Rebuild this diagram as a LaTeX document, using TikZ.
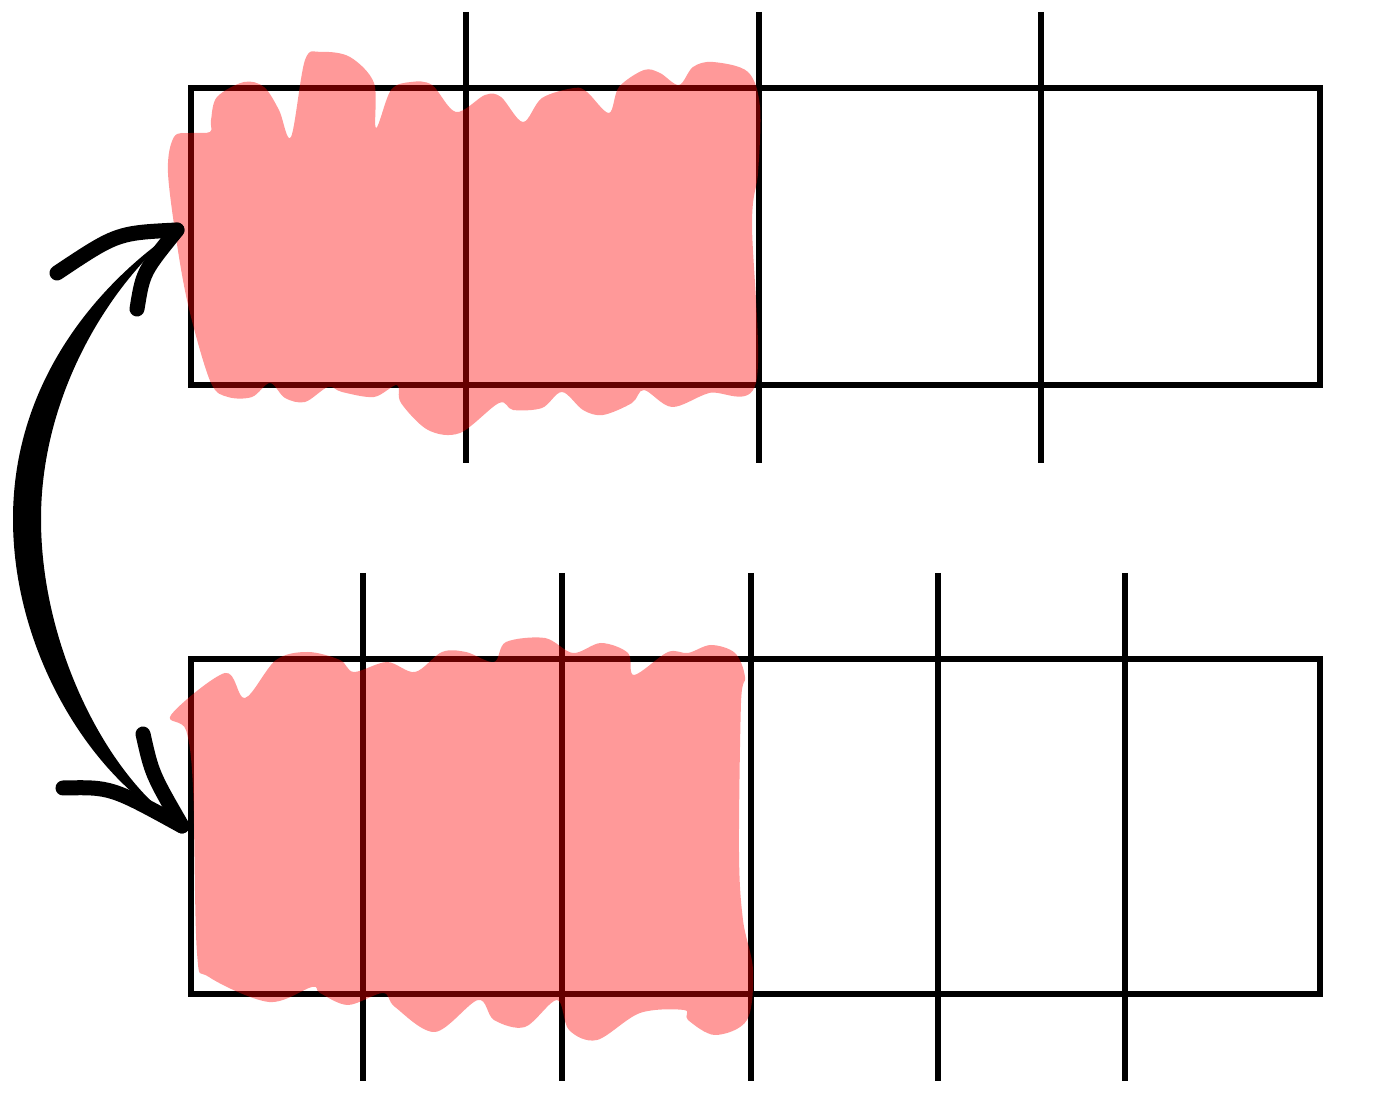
\documentclass[tikz,border=0pt]{standalone}
\usetikzlibrary{calc}

\begin{document}
\begin{tikzpicture}[
    x=0.01cm, y=-0.01cm,
    bar/.style={draw=black, line width=0.06cm},
    divider/.style={draw=black, line width=0.06cm},
    scribble/.style={fill=red, fill opacity=0.4, draw=none},
    barb/.style={draw=black, line width=0.15cm, line cap=round},
  ]
  \useasboundingbox (0,0) rectangle (1378,1113);

  % fourths
  \draw[bar] (191,88) rectangle (1320,385);
  \foreach \x in {466,759,1041}
    \draw[divider] (\x,12) -- (\x,463);

  % sixths
  \draw[bar] (191,659) rectangle (1320,994);
  \foreach \x in {363,562,751,938,1125}
    \draw[divider] (\x,573) -- (\x,1081);

  % shading, two of four
  \fill[scribble] plot[smooth cycle, tension=0.55] coordinates {
    (174,137) (168,173) (179,257) (191,317) (211,383) (228,397) (252,397)
    (270,383) (285,398) (305,402) (328,387) (342,392) (374,397) (397,385)
    (401,403) (428,430) (460,433) (499,403) (513,410) (542,408) (562,392)
    (583,410) (603,415) (632,403) (644,390) (672,407) (709,393) (756,383)
    (752,223) (758,173) (760,107) (748,72) (713,62) (693,67) (679,85)
    (660,73) (644,70) (619,87) (609,113) (587,92) (574,88) (542,98)
    (523,122) (501,97) (485,95) (456,112) (432,85) (411,82) (391,90)
    (376,128) (374,83) (350,57) (321,52) (305,60) (291,137) (279,110)
    (264,87) (244,82) (217,97) (211,120) (210,132) (191,133)};

  % shading, three of six
  \fill[scribble] plot[smooth cycle, tension=0.55] coordinates {
    (171,715) (186,730) (193,787) (197,953) (209,977) (269,1002) (312,987)
    (320,993) (348,1005) (383,993) (395,1007) (435,1032) (478,1000)
    (494,1020) (525,1027) (557,1000) (569,1030) (597,1040) (640,1013)
    (684,1010) (688,1020) (715,1035) (747,1020) (753,970) (743,920)
    (739,853) (741,703) (745,677) (735,653) (711,645) (688,653) (668,652)
    (634,675) (628,653) (601,643) (573,653) (545,638) (506,642) (494,662)
    (466,652) (442,652) (415,672) (387,662) (354,672) (340,660) (308,652)
    (276,660) (245,698) (225,673)};

  % double swoop
  \coordinate (upTip) at (177,230);
  \coordinate (downTip) at (182,826);
  \fill (upTip) .. controls (100,282) and (13,380) .. (13,519)
    .. controls (13,660) and (100,788) .. (downTip)
    .. controls (112,782) and (41,652) .. (41,519)
    .. controls (41,392) and (112,282) .. (upTip) -- cycle;
  \draw[barb] (upTip) .. controls (117,233) .. (57,273);
  \draw[barb] (upTip) .. controls (143,272) .. (137,309);
  \draw[barb] (downTip) .. controls (111,787) .. (63,788);
  \draw[barb] (downTip) .. controls (152,774) .. (143,734);
\end{tikzpicture}
\end{document}
